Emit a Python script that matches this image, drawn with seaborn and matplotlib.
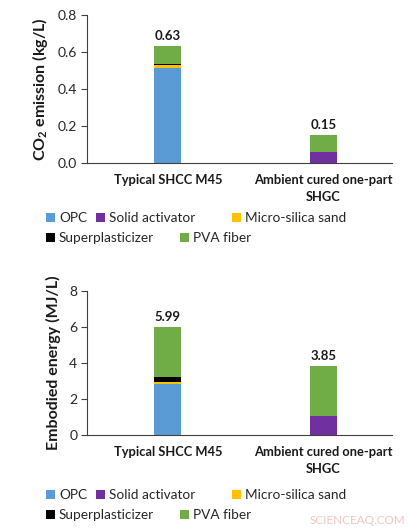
import numpy as np
import matplotlib
matplotlib.use("Agg")
import matplotlib.pyplot as plt
from matplotlib.patches import Patch
import seaborn as sns

# Datos
categories = ["Typical SHCC M45", "Ambient cured one-part\nSHGC"]
components = ["OPC", "Solid activator", "Micro-silica sand", "Superplasticizer", "PVA fiber"]
colors = ["#5B9BD5", "#7030A0", "#FFC000", "#000000", "#70AD47"]

co2_opc = [0.513, 0.0]
co2_activator = [0.0, 0.058]
co2_sand = [0.016, 0.0]
co2_sp = [0.006, 0.0]
co2_pva = [0.095, 0.092]

energy_opc = [2.85, 0.0]
energy_activator = [0.0, 1.07]
energy_sand = [0.09, 0.0]
energy_sp = [0.27, 0.0]
energy_pva = [2.78, 2.78]

co2_ticks = [0.0, 0.2, 0.4, 0.6, 0.8]
energy_ticks = [0, 2, 4, 6, 8]

sns.set_style("white")
plt.rcParams["font.family"] = ["Lato", "DejaVu Sans"]
plt.rcParams["mathtext.fontset"] = "custom"
plt.rcParams["mathtext.rm"] = "Lato"
plt.rcParams["mathtext.bf"] = "Lato:bold"

W, H = 420, 530
fig = plt.figure(figsize=(W / 100, H / 100), dpi=100)


def px_axes(left, top, right, bottom):
    return fig.add_axes([left / W, 1 - bottom / H, (right - left) / W, (bottom - top) / H])


def stacked_panel(ax, layers, ticks, fmt_ticks, ylabel, fmt_total):
    cum = np.cumsum(np.array(layers), axis=0)
    # dibujar de arriba hacia abajo para que las capas inferiores tapen
    for i in range(len(layers) - 1, -1, -1):
        sns.barplot(x=categories, y=cum[i], color=colors[i], saturation=1,
                    width=0.173, linewidth=0, ax=ax)
    totals = cum[-1]
    for i, t in enumerate(totals):
        ax.annotate(fmt_total.format(t), (i, t), xytext=(0, 3), textcoords="offset points",
                    ha="center", va="bottom", fontsize=9.5, fontweight="bold", color="#1a1a1a")
    ax.set_xlim(-0.52, 1.44)
    ax.set_ylim(ticks[0], ticks[-1])
    ax.set_yticks(ticks)
    ax.set_yticklabels([fmt_ticks.format(v) for v in ticks], fontsize=10, color="#262626")
    ax.set_xticks(range(len(categories)))
    ax.set_xticklabels(categories, fontsize=9.3, fontweight="bold", color="#1a1a1a",
                       linespacing=1.5)
    ax.tick_params(axis="x", length=0, pad=8)
    ax.tick_params(axis="y", length=4, width=0.8, color="#404040", pad=3, direction="out", left=True)
    ax.set_ylabel(ylabel, fontsize=11.5, fontweight="bold", color="#1a1a1a", labelpad=6)
    ax.set_xlabel("")
    sns.despine(ax=ax)
    for s in ["left", "bottom"]:
        ax.spines[s].set_color("#404040")
        ax.spines[s].set_linewidth(0.8)


def legend_rows(row1_y, row2_y):
    positions = [(46, row1_y), (96, row1_y), (232, row1_y), (46, row2_y), (180, row2_y)]
    for name, col, (x, y) in zip(components, colors, positions):
        fig.legend(handles=[Patch(facecolor=col, edgecolor="none")], labels=[name],
                   loc="center left", bbox_to_anchor=(x / W, 1 - y / H),
                   frameon=False, fontsize=9.8, borderpad=0, borderaxespad=0,
                   handlelength=0.65, handleheight=0.65, handletextpad=0.3,
                   labelcolor="#262626")


ax1 = px_axes(87, 15, 392, 163)
stacked_panel(ax1, [co2_opc, co2_activator, co2_sand, co2_sp, co2_pva], co2_ticks,
              "{:.1f}", r"CO$_\mathbf{2}$ emission (kg/L)", "{:.2f}")
legend_rows(218, 238)

ax2 = px_axes(87, 291, 392, 435)
stacked_panel(ax2, [energy_opc, energy_activator, energy_sand, energy_sp, energy_pva], energy_ticks,
              "{:d}", "Embodied energy (MJ/L)", "{:.2f}")
legend_rows(495, 515)

fig.text(405 / W, 1 - 520 / H, "SCIENCEAQ.COM", ha="right", va="center",
         fontsize=8.5, color="#f3c4c4")

fig.savefig("out.png", dpi=100)
